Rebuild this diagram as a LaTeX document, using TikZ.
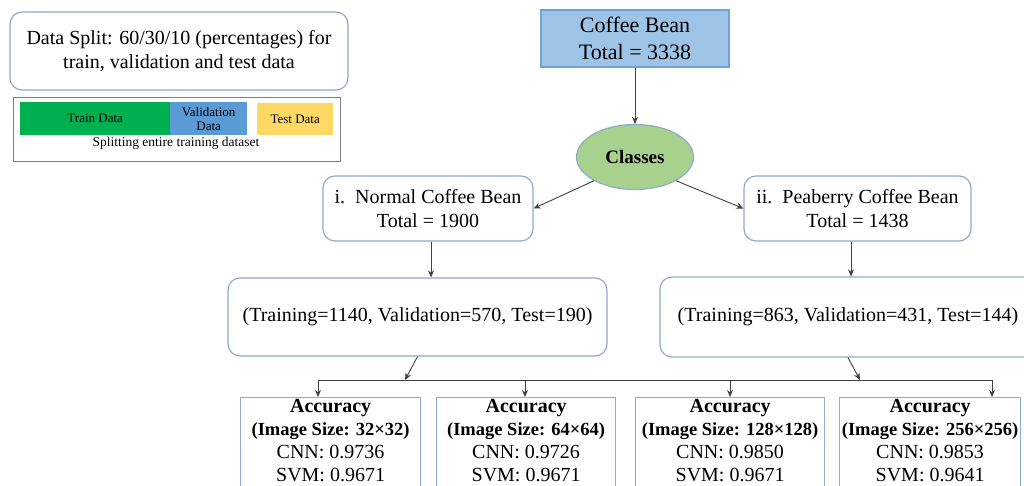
\documentclass[tikz,border=0pt]{standalone}
\usepackage{fontspec}
\setmainfont{Liberation Serif}
\usetikzlibrary{arrows.meta,shapes.geometric,calc}
\definecolor{bordc}{HTML}{8FAACC}
\definecolor{coffeefill}{HTML}{9DC3E6}
\definecolor{coffeebord}{HTML}{6FA3D8}
\definecolor{classfill}{HTML}{A9D18E}
\definecolor{trainc}{HTML}{00B050}
\definecolor{valc}{HTML}{5B9BD5}
\definecolor{testc}{HTML}{FFD966}
\definecolor{linec}{HTML}{404040}
\tikzset{
  rbox/.style={draw=bordc, line width=1.2pt, rounded corners=12pt, fill=white, align=center, inner sep=0pt},
  accbox/.style={draw=bordc, line width=1.2pt, fill=white, inner sep=0pt},
  arr/.style={draw=linec, line width=0.9pt, -{Stealth[length=7pt,width=6pt]}},
  plain/.style={draw=linec, line width=0.9pt},
  mid/.style={font=\fontsize{20}{24}\selectfont},
  acctext/.style={align=center, inner sep=0pt, anchor=north, font=\fontsize{20}{23}\selectfont},
  legtext/.style={font=\fontsize{13}{14}\selectfont, align=center, inner sep=0pt}
}
\newcommand{\imgsz}[1]{{\bfseries\fontsize{18.5}{23}\selectfont (Image Size: #1)}}
\begin{document}
\begin{tikzpicture}[x=1pt,y=-1pt]
\clip (0,0) rectangle (1024,486);
\fill[white] (0,0) rectangle (1024,486);
% Data split note
\node[rbox, minimum width=338pt, minimum height=78pt, font=\fontsize{20}{24}\selectfont] (split) at (179,51) {Data Split: 60/30/10 (percentages) for\\train, validation and test data};
% legend
\node[draw=gray, line width=0.9pt, minimum width=327pt, minimum height=64pt, anchor=north west, inner sep=0pt] (legend) at (13,97) {};
\node[fill=trainc, minimum width=150pt, minimum height=33pt, anchor=north west, legtext] (train) at (20,102) {Train Data};
\node[fill=valc, minimum width=77pt, minimum height=33pt, anchor=north west, legtext] (val) at (170,102) {Validation\\Data};
\node[fill=testc, minimum width=76pt, minimum height=32pt, anchor=north west, legtext] (test) at (257,103) {Test Data};
\node[font=\fontsize{13.5}{15}\selectfont, inner sep=0pt] (splitcap) at (176,143) {Splitting entire training dataset};
% main flow
\node[draw=coffeebord, fill=coffeefill, line width=1.2pt, minimum width=188pt, minimum height=57pt, align=center, inner sep=0pt, font=\fontsize{22}{27}\selectfont] (coffee) at (635,38.5) {Coffee Bean\\Total = 3338};
\node[ellipse, draw=bordc, fill=classfill, line width=1.2pt, minimum width=117pt, minimum height=65pt, inner sep=0pt, font=\bfseries\fontsize{19}{22}\selectfont] (classes) at (635,157) {Classes};
\node[rbox, mid, minimum width=210pt, minimum height=65pt] (normal) at (428,208.5) {i.\ \ Normal Coffee Bean\\Total = 1900};
\node[rbox, mid, minimum width=227pt, minimum height=65pt] (pea) at (857.5,208.5) {ii.\ \ Peaberry Coffee Bean\\Total = 1438};
\node[rbox, mid, minimum width=379pt, minimum height=78pt] (trainL) at (417.5,317) {(Training=1140, Validation=570, Test=190)};
\node[rbox, mid, minimum width=376pt, minimum height=80pt] (trainR) at (848,317) {(Training=863, Validation=431, Test=144)};
\draw[arr] (coffee.south) -- (classes.north);
\draw[arr] (classes.210) -- (normal.east);
\draw[arr] (classes.330) -- (pea.west);
\draw[arr] (normal.south -| 431,0) -- (trainL.north -| 431,0);
\draw[arr] (pea.south -| 851,0) -- (trainR.north -| 851,0);
% distribution line
\coordinate (jl) at (405,380);
\coordinate (jr) at (860,380);
\coordinate (h1) at (318,380);
\coordinate (h2) at (525,380);
\coordinate (h3) at (730,380);
\coordinate (h4) at (992,380);
\draw[plain] (h1) -- (h4);
\draw[arr] (trainL.south) -- (jl);
\draw[arr] (trainR.south) -- (jr);
% accuracy boxes
\node[accbox, anchor=north west, minimum width=180pt, minimum height=130pt] (a1) at (240,397) {};
\node[accbox, anchor=north west, minimum width=179pt, minimum height=130pt] (a2) at (436,397) {};
\node[accbox, anchor=north west, minimum width=189pt, minimum height=130pt] (a3) at (635,397) {};
\node[accbox, anchor=north west, minimum width=181pt, minimum height=130pt] (a4) at (839,397) {};
\draw[arr] (h1) -- (h1 |- a1.north);
\draw[arr] (h2) -- (h2 |- a2.north);
\draw[arr] (h3) -- (h3 |- a3.north);
\draw[arr] (h4) -- (h4 |- a4.north);
\node[acctext] (t1) at ($(a1.north)+(0,2)$) {\textbf{Accuracy}\\\imgsz{32\texttimes32}\\CNN: 0.9736\\SVM: 0.9671};
\node[acctext] (t2) at ($(a2.north)+(0,2)$) {\textbf{Accuracy}\\\imgsz{64\texttimes64}\\CNN: 0.9726\\SVM: 0.9671};
\node[acctext] (t3) at ($(a3.north)+(0,2)$) {\textbf{Accuracy}\\\imgsz{128\texttimes128}\\CNN: 0.9850\\SVM: 0.9671};
\node[acctext] (t4) at ($(a4.north)+(0,2)$) {\textbf{Accuracy}\\\imgsz{256\texttimes256}\\CNN: 0.9853\\SVM: 0.9641};
\end{tikzpicture}
\end{document}
